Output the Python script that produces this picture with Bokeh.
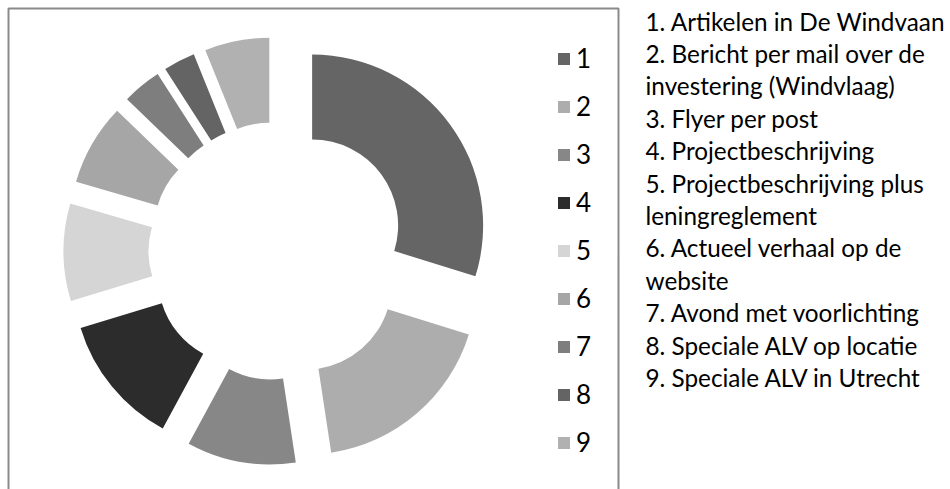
import numpy as np
from bokeh.plotting import figure
from bokeh.models import ColumnDataSource, Range1d, Legend, LegendItem
from bokeh.core.properties import value
from bokeh.embed import file_html
from bokeh.resources import INLINE

# ---- data ----
categories = ["1", "2", "3", "4", "5", "6", "7", "8", "9"]
shares = [29.8, 17.8, 10.3, 12.4, 9.2, 7.7, 3.7, 3.0, 6.1]
colors = ["#656565", "#adadad", "#878787", "#2c2c2c", "#d5d5d5",
          "#a6a6a6", "#7e7e7e", "#646464", "#b1b1b1"]
descriptions = [
    "1. Artikelen in De Windvaan",
    "2. Bericht per mail over de",
    "investering (Windvlaag)",
    "3. Flyer per post",
    "4. Projectbeschrijving",
    "5. Projectbeschrijving plus",
    "leningreglement",
    "6. Actueel verhaal op de",
    "website",
    "7. Avond met voorlichting",
    "8. Speciale ALV op locatie",
    "9. Speciale ALV in Utrecht",
]

# ---- layout (pixels) ----
W, H = 950, 489
cx, cy = 277.0, 238.5
explode = 43.0
r_in, r_out = 86, 171
FONT = "Lato"

vals = np.array(shares, dtype=float)
frac = vals / vals.sum()
cum = np.concatenate([[0.0], np.cumsum(frac)])
start = np.deg2rad(90.0 - 360.0 * cum[:-1])
end = np.deg2rad(90.0 - 360.0 * cum[1:])
mid = (start + end) / 2.0
xs = cx + explode * np.cos(mid)
ys = cy + explode * np.sin(mid)

src = ColumnDataSource(dict(x=xs, y=ys, start=start, end=end,
                            color=colors, cat=categories))

p = figure(width=W, height=H, output_backend="svg", toolbar_location=None,
           x_range=Range1d(0, W), y_range=Range1d(0, H),
           min_border=0, tools="")
p.axis.visible = False
p.grid.visible = False
p.outline_line_color = None
p.background_fill_color = "white"
p.border_fill_color = "white"

# chart area border (bottom edge lies outside the window)
p.line(x=[8, 8, 618, 618], y=[-5, 481, 481, -5], line_color="#8a8a8a", line_width=2)

r = p.annular_wedge(x="x", y="y", inner_radius=r_in, outer_radius=r_out,
                    inner_radius_units="screen", outer_radius_units="screen",
                    start_angle="start", end_angle="end", direction="clock",
                    fill_color="color", line_color=None, source=src)

items = [LegendItem(label=c, renderers=[r], index=i) for i, c in enumerate(categories)]
legend = Legend(items=items, location=(556, 30), orientation="vertical",
                glyph_width=15, glyph_height=15, label_height=34, spacing=14,
                padding=0, margin=0, border_line_color=None,
                background_fill_alpha=0, label_standoff=5,
                label_text_font=FONT, label_text_font_size="26px",
                label_text_color="#000000")
p.add_layout(legend, "center")

# description text to the right
ty = [H - (20.5 + 32.4 * i) for i in range(len(descriptions))]
tsrc = ColumnDataSource(dict(x=[645] * len(descriptions), y=ty, t=descriptions))
p.text(x="x", y="y", text="t", source=tsrc, text_font=value(FONT),
       text_font_size="24.3px", text_baseline="middle", text_align="left",
       text_color="#000000")

open("out.html", "w").write(file_html(p, INLINE))
